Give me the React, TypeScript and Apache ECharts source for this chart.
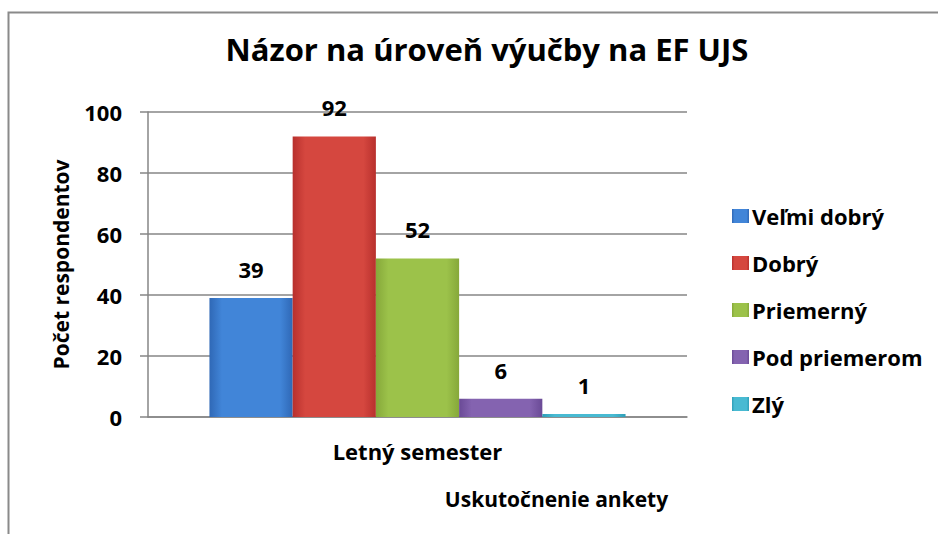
import React, { useEffect, useRef } from "react";
import * as echarts from "echarts";

const titleText = "Názor na úroveň výučby na EF UJS";
const categories = ["Letný semester"];
const seriesNames = ["Veľmi dobrý", "Dobrý", "Priemerný", "Pod priemerom", "Zlý"];
const seriesValues = [39, 92, 52, 6, 1];
const seriesColors = [
  ["#2f68b6", "#4185d8", "#2f68b6"],
  ["#b8302d", "#d5473f", "#b8302d"],
  ["#86a83a", "#9cc24a", "#86a83a"],
  ["#6a4a96", "#8463b0", "#6a4a96"],
  ["#2e9fb8", "#48bad2", "#2e9fb8"],
];
const yAxisName = "Počet respondentov";
const xAxisName = "Uskutočnenie ankety";

const FONT = "'Open Sans', 'DejaVu Sans', sans-serif";

export default function App() {
  const ref = useRef<HTMLDivElement>(null);
  useEffect(() => {
    if (!ref.current) return;
    const chart = echarts.init(ref.current, undefined, { renderer: "svg" });
    const grad = (c: string[]) =>
      new echarts.graphic.LinearGradient(0, 0, 1, 0, [
        { offset: 0, color: c[0] },
        { offset: 0.15, color: c[1] },
        { offset: 0.85, color: c[1] },
        { offset: 1, color: c[2] },
      ]);
    chart.setOption({
      animation: false,
      backgroundColor: "#ffffff",
      textStyle: { fontFamily: FONT, color: "#000" },
      title: {
        text: titleText,
        left: 482,
        top: 28,
        textAlign: "center",
        textStyle: { fontFamily: FONT, fontSize: 31, fontWeight: "bold", color: "#000" },
      },
      graphic: [
        {
          type: "rect",
          shape: { x: 8.5, y: 12.5, width: 960, height: 560 },
          style: { fill: "none", stroke: "#8a8a8a", lineWidth: 2 },
          silent: true,
        },
      ],
      legend: {
        orient: "vertical",
        left: 727,
        top: 200,
        itemWidth: 17,
        itemHeight: 14,
        itemGap: 25,
        icon: "rect",
        data: seriesNames,
        textStyle: { fontFamily: FONT, fontSize: 22, fontWeight: "bold", color: "#000", padding: [0, 0, 0, -2] },
      },
      grid: { left: 148, right: 251, top: 112, bottom: 117 },
      xAxis: {
        type: "category",
        data: categories,
        axisLine: { show: true, lineStyle: { color: "#868686", width: 1.5 } },
        axisTick: { show: false },
        axisLabel: { fontFamily: FONT, fontSize: 22, fontWeight: "bold", color: "#000", margin: 23 },
        name: xAxisName,
        nameLocation: "middle",
        nameGap: 71,
        nameTextStyle: { fontFamily: FONT, fontSize: 21, fontWeight: "bold", color: "#000", padding: [0, 0, 0, 278] },
      },
      yAxis: {
        type: "value",
        min: 0,
        max: 100,
        interval: 20,
        axisLine: { show: true, lineStyle: { color: "#868686", width: 1.5 } },
        axisTick: { show: true, length: 8, lineStyle: { color: "#868686", width: 1.5 } },
        splitLine: { show: true, lineStyle: { color: "#868686", width: 1.5 } },
        axisLabel: { fontFamily: FONT, fontSize: 22, fontWeight: "bold", color: "#000", margin: 26 },
        name: yAxisName,
        nameLocation: "middle",
        nameGap: 77,
        nameTextStyle: { fontFamily: FONT, fontSize: 21, fontWeight: "bold", color: "#000" },
      },
      series: seriesNames.map((name, i) => ({
        name,
        type: "bar",
        data: [seriesValues[i]],
        barGap: "0%",
        barCategoryGap: "22.8%",
        itemStyle: { color: grad(seriesColors[i]) },
        label: {
          show: true,
          position: "top",
          distance: 18,
          fontFamily: FONT,
          fontSize: 22,
          fontWeight: "bold",
          color: "#000",
        },
      })),
    });
    return () => chart.dispose();
  }, []);
  return (
    <div
      ref={ref}
      style={{ position: "fixed", left: 0, top: 0, width: 938, height: 534 }}
    />
  );
}
